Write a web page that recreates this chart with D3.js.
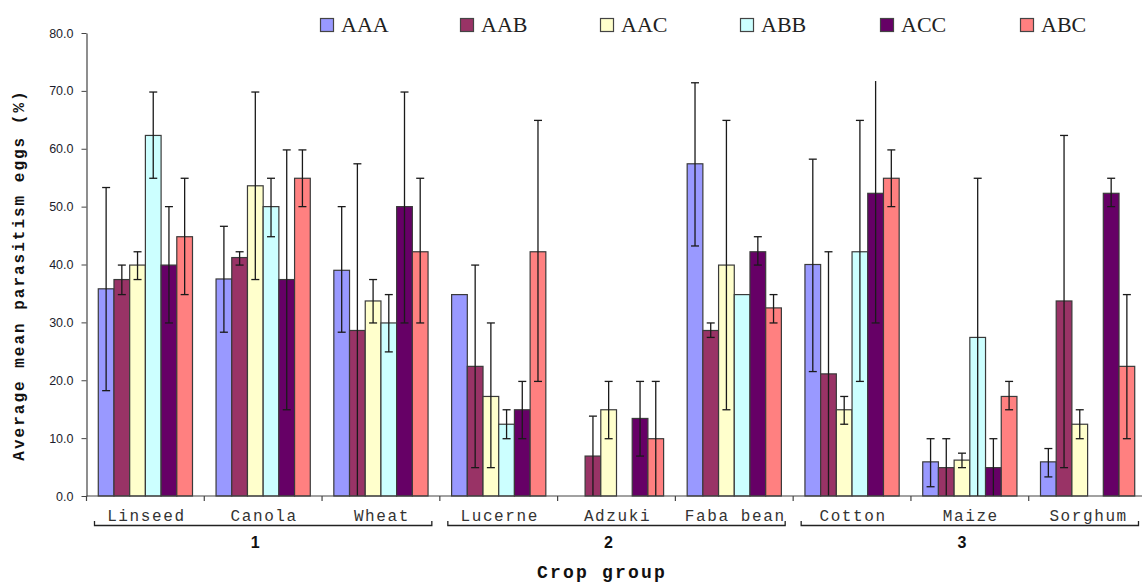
<!DOCTYPE html>
<html>
<head>
<meta charset="utf-8">
<script src="https://cdn.jsdelivr.net/npm/d3@7"></script>
<style>
  html, body { margin: 0; padding: 0; background: #fff; }
  svg { display: block; }
</style>
</head>
<body>
<svg id="chart" width="1142" height="584"></svg>
<script>
// ---------- data ----------
const categories = ["Linseed", "Canola", "Wheat", "Lucerne", "Adzuki", "Faba bean", "Cotton", "Maize", "Sorghum"];
const seriesNames = ["AAA", "AAB", "AAC", "ABB", "ACC", "ABC"];
const seriesColors = ["#9999FF", "#993366", "#FFFFCC", "#CCFFFF", "#660066", "#FF8080"];

const groupLabels = ["1", "2", "3"];
const groupFirst = ["Linseed", "Lucerne", "Cotton"];
const groupLast = ["Wheat", "Faba bean", "Sorghum"];

const yTicks = [0, 10, 20, 30, 40, 50, 60, 70, 80];

// mean values
const aaa = [35.8, 37.5, 39.0, 34.8, 0, 57.4, 40.0, 5.9, 5.9];
const aab = [37.4, 41.2, 28.6, 22.4, 6.9, 28.6, 21.1, 4.9, 33.7];
const aac = [39.9, 53.6, 33.7, 17.2, 14.9, 39.9, 14.9, 6.2, 12.4];
const abb = [62.3, 50.0, 29.9, 12.4, 0, 34.8, 42.2, 27.4, 0];
const acc = [39.9, 37.4, 50.0, 14.9, 13.4, 42.2, 52.3, 4.9, 52.3];
const abc = [44.8, 54.9, 42.2, 42.2, 9.9, 32.5, 54.9, 17.2, 22.4];

// error bar upper ends
const aaaHi = [53.3, 46.6, 50.0, null, null, 71.4, 58.2, 9.9, 8.2];
const aabHi = [39.9, 42.2, 57.4, 39.9, 13.8, 29.9, 42.2, 9.9, 62.3];
const aacHi = [42.2, 69.8, 37.4, 29.9, 19.8, 64.9, 17.2, 7.4, 14.9];
const abbHi = [69.8, 54.9, 34.8, 14.9, null, null, 64.9, 54.9, null];
const accHi = [50.0, 59.8, 69.8, 19.8, 19.8, 44.8, 71.7, 9.9, 54.9];
const abcHi = [54.9, 59.8, 54.9, 64.9, 19.8, 34.8, 59.8, 19.8, 34.8];

// error bar lower ends
const aaaLo = [18.2, 28.3, 28.3, null, null, 43.2, 21.5, 1.6, 3.3];
const aabLo = [34.8, 39.9, 0, 4.9, 0, 27.4, 0, 0, 4.9];
const aacLo = [37.4, 37.4, 29.9, 4.9, 9.9, 14.9, 12.4, 4.9, 9.9];
const abbLo = [54.9, 44.8, 24.9, 9.9, null, null, 19.8, 0, null];
const accLo = [29.9, 14.9, 29.9, 9.9, 6.9, 39.9, 29.9, 0, 50.0];
const abcLo = [34.8, 50.0, 29.9, 19.8, 0, 29.9, 50.0, 14.9, 9.9];

const seriesValues = [aaa, aab, aac, abb, acc, abc];
const seriesHi = [aaaHi, aabHi, aacHi, abbHi, accHi, abcHi];
const seriesLo = [aaaLo, aabLo, aacLo, abbLo, accLo, abcLo];

// ---------- build ----------
const svg = d3.select("#chart");
const W = 1142, H = 584;
const plotLeft = 86.5, plotRight = 1146.5, plotTop = 33, plotBottom = 496;

const x = d3.scaleBand().domain(categories).range([plotLeft, plotRight]).paddingInner(0).paddingOuter(0);
const xs = d3.scaleBand().domain(seriesNames).range([0, x.bandwidth()]).paddingInner(0).paddingOuter(0.75);
const y = d3.scaleLinear().domain([0, 80]).range([plotBottom, plotTop]);

const monoFont = "'Courier New', 'Liberation Mono', monospace";

// flat records
const records = [];
seriesNames.forEach((s, si) => {
  categories.forEach((c, ci) => {
    records.push({ s, si, c, v: seriesValues[si][ci], hi: seriesHi[si][ci], lo: seriesLo[si][ci] });
  });
});

// bars
svg.append("g").selectAll("rect")
  .data(records.filter(d => d.v > 0))
  .join("rect")
  .attr("x", d => x(d.c) + xs(d.s))
  .attr("y", d => y(d.v))
  .attr("width", xs.bandwidth())
  .attr("height", d => y(0) - y(d.v))
  .attr("fill", d => seriesColors[d.si])
  .attr("stroke", "#3a3a3a")
  .attr("stroke-width", 1.2);

// error bars
const eb = svg.append("g").attr("stroke", "#1a1a1a").attr("stroke-width", 1.3);
const withErr = records.filter(d => d.hi !== null && d.lo !== null);
const cx = d => x(d.c) + xs(d.s) + xs.bandwidth() / 2;
eb.selectAll("line.v").data(withErr).join("line").attr("class", "v")
  .attr("x1", cx).attr("x2", cx)
  .attr("y1", d => y(d.hi)).attr("y2", d => y(d.lo));
eb.selectAll("line.h").data(withErr.filter(d => d.hi < 71.5)).join("line").attr("class", "h")
  .attr("x1", d => cx(d) - 4).attr("x2", d => cx(d) + 4)
  .attr("y1", d => y(d.hi)).attr("y2", d => y(d.hi));
eb.selectAll("line.l").data(withErr.filter(d => d.lo > 0.5)).join("line").attr("class", "l")
  .attr("x1", d => cx(d) - 4).attr("x2", d => cx(d) + 4)
  .attr("y1", d => y(d.lo)).attr("y2", d => y(d.lo));

// y axis
const yAxis = svg.append("g")
  .attr("transform", `translate(${plotLeft},0)`)
  .call(d3.axisLeft(y).tickValues(yTicks).tickFormat(d3.format(".1f")).tickSize(5).tickSizeOuter(0));
yAxis.select(".domain").attr("stroke", "#444").attr("stroke-width", 1.2);
yAxis.selectAll(".tick line").attr("stroke", "#444");
yAxis.selectAll(".tick text")
  .attr("x", -13)
  .attr("font-family", "Arial, 'Liberation Sans', sans-serif")
  .attr("font-size", 12.5)
  .attr("fill", "#1c1c2c");

// x axis baseline + boundary ticks
svg.append("line")
  .attr("x1", plotLeft).attr("x2", W).attr("y1", y(0)).attr("y2", y(0))
  .attr("stroke", "#444").attr("stroke-width", 1.2);
const boundaries = categories.map(c => x(c)).concat([x(categories[categories.length - 1]) + x.bandwidth()]);
svg.append("g").selectAll("line").data(boundaries).join("line")
  .attr("x1", d => d).attr("x2", d => d)
  .attr("y1", y(0)).attr("y2", y(0) + 5)
  .attr("stroke", "#444").attr("stroke-width", 1.2);

// category labels
svg.append("g").selectAll("text").data(categories).join("text")
  .attr("x", d => x(d) + x.bandwidth() / 2 + 1)
  .attr("y", 520.5)
  .attr("text-anchor", "middle")
  .attr("font-family", monoFont)
  .attr("font-size", 16)
  .attr("letter-spacing", 1.6)
  .attr("fill", "#333")
  .text(d => d);

// group brackets
const bracket = svg.append("g").attr("fill", "none").attr("stroke", "#222").attr("stroke-width", 1.3);
groupLabels.forEach((g, gi) => {
  const x0 = x(groupFirst[gi]) + 8;
  const x1 = x(groupLast[gi]) + x.bandwidth() - 8;
  bracket.append("path")
    .attr("d", `M${x0},521V525.5H${x1}V521`);
  svg.append("text")
    .attr("x", (x0 + x1) / 2 - 8)
    .attr("y", 548)
    .attr("text-anchor", "middle")
    .attr("font-family", "Arial, 'Liberation Sans', sans-serif")
    .attr("font-weight", "bold")
    .attr("font-size", 16)
    .attr("fill", "#111")
    .text(g);
});

// axis titles
svg.append("text")
  .attr("x", 602).attr("y", 578)
  .attr("text-anchor", "middle")
  .attr("font-family", monoFont)
  .attr("font-weight", "bold")
  .attr("font-size", 18)
  .attr("letter-spacing", 2.2)
  .attr("fill", "#111")
  .text("Crop group");

svg.append("text")
  .attr("transform", "translate(24,275) rotate(-90)")
  .attr("text-anchor", "middle")
  .attr("font-family", monoFont)
  .attr("font-weight", "bold")
  .attr("font-size", 16)
  .attr("letter-spacing", 2)
  .attr("fill", "#111")
  .text("Average mean parasitism eggs (%)");

// legend
const legend = svg.append("g").selectAll("g").data(seriesNames).join("g")
  .attr("transform", (d, i) => `translate(${320 + i * 140},0)`);
legend.append("rect")
  .attr("x", 0.5).attr("y", 18.5).attr("width", 13).attr("height", 13)
  .attr("fill", (d, i) => seriesColors[i])
  .attr("stroke", "#444").attr("stroke-width", 1.2);
legend.append("text")
  .attr("x", 21).attr("y", 31.5)
  .attr("font-family", "'Liberation Serif', 'Times New Roman', serif")
  .attr("font-size", 22)
  .attr("fill", "#222")
  .text(d => d);
</script>
</body>
</html>
